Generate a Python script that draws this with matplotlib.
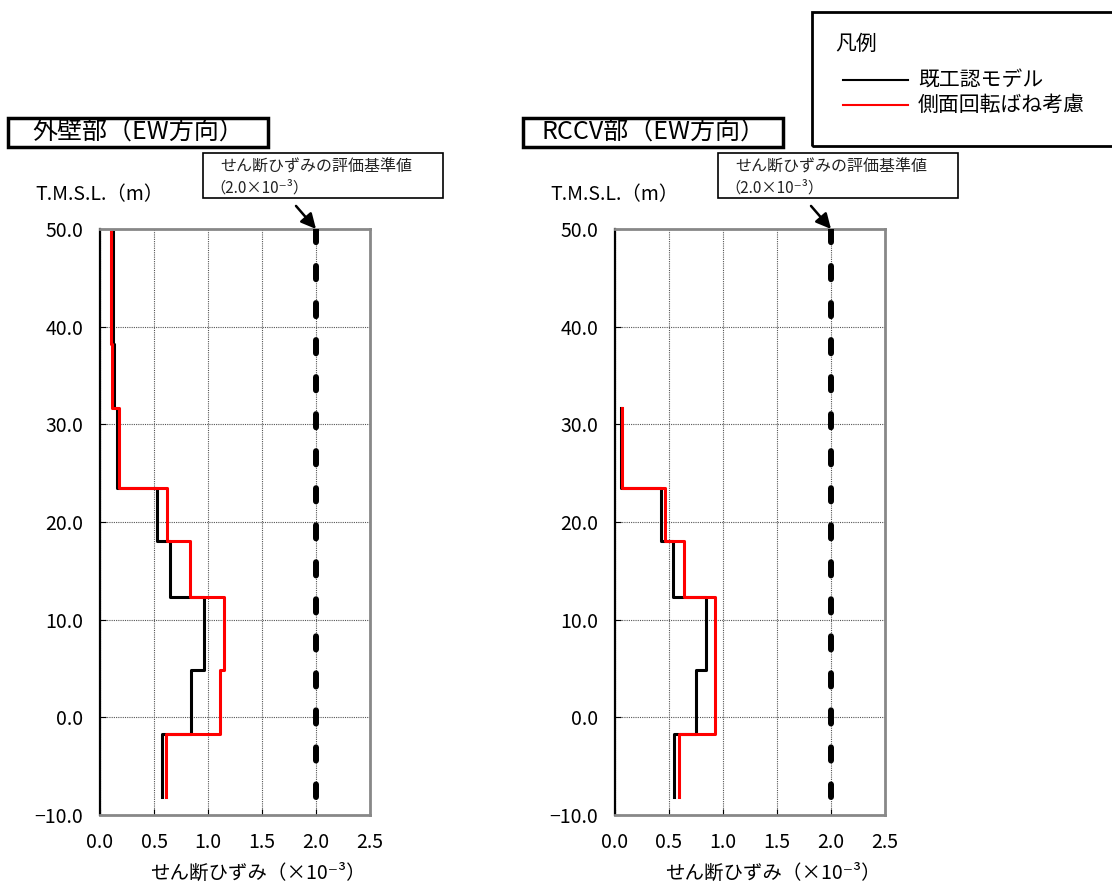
import matplotlib
matplotlib.use("Agg")
import matplotlib.pyplot as plt
from matplotlib.patches import Rectangle
from matplotlib.lines import Line2D
import numpy as np

plt.rcParams['font.family'] = ['Noto Sans CJK JP', 'DejaVu Sans']

# elevations (T.M.S.L., m) of floor levels
outer_elev = [49.7, 38.2, 31.7, 23.5, 18.1, 12.3, 4.8, -1.7, -8.2]
rccv_elev = [31.7, 23.5, 18.1, 12.3, 4.8, -1.7, -8.2]

# shear strain (x10^-3) per storey
outer_base = [0.12, 0.13, 0.16, 0.53, 0.65, 0.96, 0.84, 0.57]
outer_side = [0.10, 0.11, 0.18, 0.62, 0.83, 1.145, 1.11, 0.61]
rccv_base = [0.06, 0.43, 0.54, 0.84, 0.75, 0.55]
rccv_side = [0.065, 0.46, 0.64, 0.93, 0.93, 0.59]

limit_value = 2.0
xticks = [0.0, 0.5, 1.0, 1.5, 2.0, 2.5]
yticks = [-10, 0, 10, 20, 30, 40, 50]

titles = ["外壁部（EW方向）", "RCCV部（EW方向）"]
legend_labels = ["既工認モデル", "側面回転ばね考慮"]

W, H = 1112, 883
fig = plt.figure(figsize=(W / 100, H / 100), dpi=100)


def fx(x):
    return x / W


def fy(y):
    return 1 - y / H


def step_xy(elev, vals):
    xs, ys = [], []
    for i, v in enumerate(vals):
        xs += [v, v]
        ys += [elev[i], elev[i + 1]]
    return xs, ys


panels = [(outer_elev, outer_base, outer_side, 100),
          (rccv_elev, rccv_base, rccv_side, 615)]

for k, (elev, base, side, left) in enumerate(panels):
    ax = fig.add_axes([fx(left), fy(815), 270 / W, 586 / H])
    ax.set_xlim(0, 2.5)
    ax.set_ylim(-10, 50)
    ax.set_xticks(xticks)
    ax.set_yticks(yticks)
    ax.set_xticklabels(["%.1f" % t for t in xticks])
    ax.set_yticklabels(["\u221210.0" if t < 0 else "%.1f" % t for t in yticks])
    ax.tick_params(direction='in', length=4, labelsize=14, pad=12)
    ax.grid(True, color='#555555', linestyle=(0, (1, 1)), linewidth=0.8)
    for s in ['top', 'right', 'bottom']:
        ax.spines[s].set_color('#888888')
        ax.spines[s].set_linewidth(2)
    ax.spines['left'].set_color('black')
    ax.spines['left'].set_linewidth(1.6)

    # criterion line
    ax.plot([limit_value, limit_value], [outer_elev[0] + 0.3, outer_elev[-1]],
            color='black', lw=4.3, linestyle=(0, (2.2, 4.0)),
            solid_capstyle='round', dash_capstyle='round', zorder=3)

    bx, by = step_xy(elev, base)
    sx, sy = step_xy(elev, side)
    ax.plot(bx, by, color='black', lw=2.2, zorder=4)
    ax.plot(sx, sy, color='red', lw=2.2, zorder=5)

    ax.annotate('', xy=(limit_value, 50), xytext=(-14.4, 16.6),
                textcoords='offset points', annotation_clip=False,
                arrowprops=dict(arrowstyle='-|>,head_length=0.9,head_width=0.45',
                                color='black', lw=1.8, shrinkA=0, shrinkB=0))

    dx = left - 100
    # title box
    fig.add_artist(Rectangle((fx(8 + dx), fy(147)), 260 / W, 29 / H,
                             transform=fig.transFigure, fill=False,
                             edgecolor='black', lw=2.5))
    fig.text(fx(138 + dx), fy(132), titles[k], fontsize=18,
             ha='center', va='center')
    # criterion label box
    fig.add_artist(Rectangle((fx(203 + dx), fy(198)), 240 / W, 45 / H,
                             transform=fig.transFigure, fill=False,
                             edgecolor='black', lw=1.2))
    fig.text(fx(220 + dx), fy(167), "せん断ひずみの評価基準値", fontsize=11.5,
             ha='left', va='center', color='#222222')
    fig.text(fx(210 + dx), fy(188), "（2.0×10⁻³）", fontsize=11,
             ha='left', va='center', color='#222222')
    # axis labels
    fig.text(fx(35 + dx), fy(195), "T.M.S.L.（m）", fontsize=14,
             ha='left', va='center')
    fig.text(fx(258 + dx), fy(873), "せん断ひずみ（×10⁻³）", fontsize=14,
             ha='center', va='center')

# legend box
fig.add_artist(Rectangle((fx(812), fy(146)), 320 / W, 134 / H,
                         transform=fig.transFigure, fill=False,
                         edgecolor='black', lw=2))
fig.text(fx(835), fy(44), "凡例", fontsize=15, ha='left', va='center')
for i, (lab, col) in enumerate(zip(legend_labels, ['black', 'red'])):
    yy = 80 + 25 * i
    fig.add_artist(Line2D([fx(843), fx(908)], [fy(yy), fy(yy)],
                          transform=fig.transFigure, color=col, lw=1.5))
    fig.text(fx(918), fy(yy), lab, fontsize=15, ha='left', va='center')

fig.savefig("out.png", dpi=100)
